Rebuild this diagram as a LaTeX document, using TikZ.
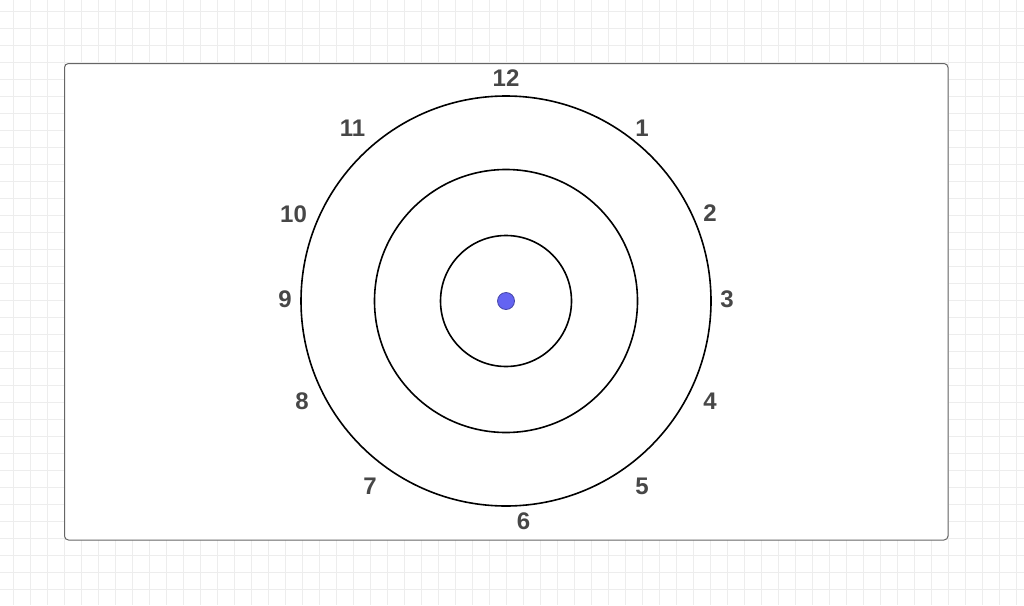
\documentclass[tikz,border=0pt]{standalone}
\usepackage{fontspec}
\setmainfont{Liberation Sans}
\begin{document}
\begin{tikzpicture}[x=1pt,y=-1pt,
  gridline/.style={draw=black!7,line width=0.8pt},
  ring/.style={draw=black,line width=1.6pt},
  hour/.style={text=black!72,font=\fontsize{24}{24}\selectfont\bfseries,inner sep=0pt,anchor=center}]
\definecolor{dotfill}{HTML}{6464F2}
\definecolor{dotdraw}{HTML}{4646A8}
\useasboundingbox (0,0) rectangle (1024,605);
\fill[white] (0,0) rectangle (1024,605);
\foreach \i in {0,...,60} {\draw[gridline] ({13.4+17*\i},0) -- ({13.4+17*\i},605);}
\foreach \j in {0,...,35} {\draw[gridline] (0,{11.6+17*\j}) -- (1024,{11.6+17*\j});}
\draw[draw=black!60,fill=white,line width=1pt,rounded corners=4pt] (64.5,63.5) rectangle (948,540);
\coordinate (c) at (506,301);
\draw[ring] (c) circle (205);
\draw[ring] (c) circle (131.5);
\draw[ring] (c) circle (65.5);
\node[circle,fill=dotfill,draw=dotdraw,line width=0.8pt,minimum size=17pt,inner sep=0pt] (dot) at (c) {};
\node[hour] (h12) at (506,78) {12};
\node[hour] (h1) at (642,128.5) {1};
\node[hour] (h2) at (710,213.5) {2};
\node[hour] (h3) at (727,299.5) {3};
\node[hour] (h4) at (710,401.5) {4};
\node[hour] (h5) at (642,486) {5};
\node[hour] (h6) at (523.5,521.5) {6};
\node[hour] (h7) at (370,486) {7};
\node[hour] (h8) at (302,401.5) {8};
\node[hour] (h9) at (285,299.5) {9};
\node[hour] (h10) at (293.5,214) {10};
\node[hour] (h11) at (352.5,128.5) {11};
\end{tikzpicture}
\end{document}
